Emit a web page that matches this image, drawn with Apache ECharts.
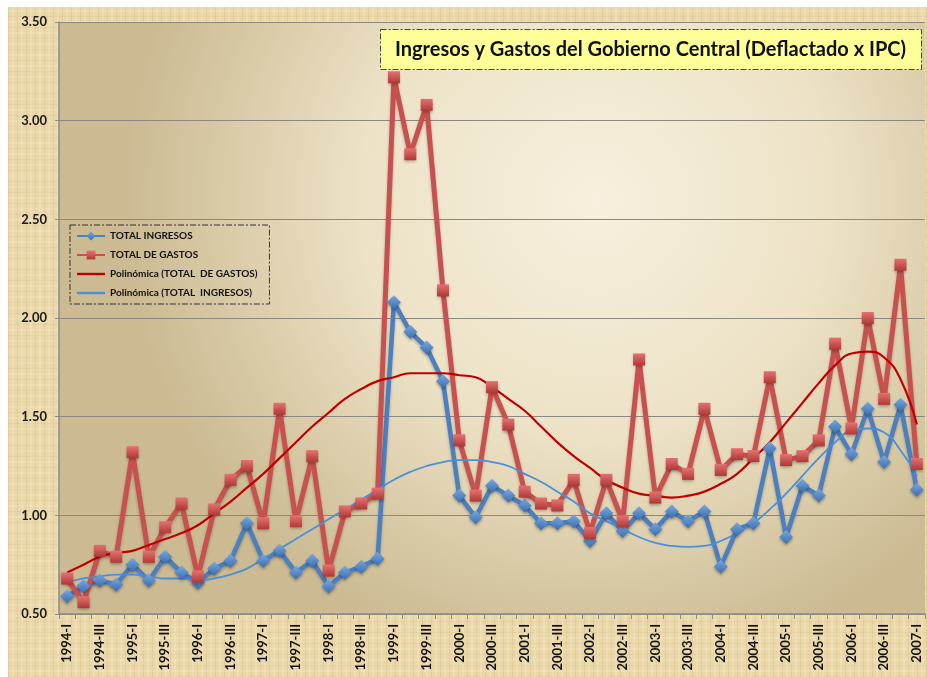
<!DOCTYPE html>
<html>
<head>
<meta charset="utf-8">
<script src="https://cdn.jsdelivr.net/npm/echarts@6/dist/echarts.min.js"></script>
<style>
  html, body { margin: 0; padding: 0; background: #ffffff; }
  #wrap {
    position: absolute; left: 8px; top: 7px; width: 919px; height: 670px;
    background:
      repeating-linear-gradient(90deg, rgba(150,110,50,0.10) 0 1px, transparent 1px 4px, rgba(255,245,220,0.18) 4px 6px, transparent 6px 9px),
      repeating-linear-gradient(0deg, rgba(150,110,50,0.08) 0 1px, transparent 1px 5px, rgba(255,245,220,0.15) 5px 7px, transparent 7px 11px),
      #ebd8aa;
  }
  #chart { width: 919px; height: 670px; }
</style>
</head>
<body>
<div id="wrap"><div id="chart"></div></div>
<script>
// quarterly periods
const periods = [
  '1994-I','1994-II','1994-III','1994-IV',
  '1995-I','1995-II','1995-III','1995-IV',
  '1996-I','1996-II','1996-III','1996-IV',
  '1997-I','1997-II','1997-III','1997-IV',
  '1998-I','1998-II','1998-III','1998-IV',
  '1999-I','1999-II','1999-III','1999-IV',
  '2000-I','2000-II','2000-III','2000-IV',
  '2001-I','2001-II','2001-III','2001-IV',
  '2002-I','2002-II','2002-III','2002-IV',
  '2003-I','2003-II','2003-III','2003-IV',
  '2004-I','2004-II','2004-III','2004-IV',
  '2005-I','2005-II','2005-III','2005-IV',
  '2006-I','2006-II','2006-III','2006-IV',
  '2007-I'
];

const totalIngresos = [
  0.59, 0.64, 0.67, 0.65,  0.75, 0.67, 0.79, 0.71,  0.66, 0.73, 0.77, 0.96,
  0.77, 0.82, 0.71, 0.77,  0.64, 0.71, 0.74, 0.78,  2.08, 1.93, 1.85, 1.68,
  1.10, 0.99, 1.15, 1.10,  1.05, 0.96, 0.96, 0.97,  0.87, 1.01, 0.92, 1.01,
  0.93, 1.02, 0.97, 1.02,  0.74, 0.93, 0.96, 1.34,  0.89, 1.15, 1.10, 1.45,
  1.31, 1.54, 1.27, 1.56,  1.13
];

const totalGastos = [
  0.68, 0.56, 0.82, 0.79,  1.32, 0.79, 0.94, 1.06,  0.69, 1.03, 1.18, 1.25,
  0.96, 1.54, 0.97, 1.30,  0.72, 1.02, 1.06, 1.11,  3.22, 2.83, 3.08, 2.14,
  1.38, 1.10, 1.65, 1.46,  1.12, 1.06, 1.05, 1.18,  0.91, 1.18, 0.97, 1.79,
  1.09, 1.26, 1.21, 1.54,  1.23, 1.31, 1.30, 1.70,  1.28, 1.30, 1.38, 1.87,
  1.44, 2.00, 1.59, 2.27,  1.26
];

// trend lines
const trendGastos = [
  0.71, 0.75, 0.79, 0.81,  0.82, 0.85, 0.88, 0.91,  0.95, 1.01, 1.07, 1.14,
  1.21, 1.29, 1.37, 1.45,  1.52, 1.59, 1.64, 1.68,  1.70, 1.72, 1.72, 1.72,
  1.71, 1.70, 1.65, 1.59,  1.53, 1.45, 1.37, 1.30,  1.24, 1.18, 1.14, 1.11,
  1.10, 1.09, 1.10, 1.12,  1.16, 1.21, 1.29, 1.37,  1.47, 1.57, 1.67, 1.76,
  1.82, 1.83, 1.80, 1.69,  1.46
];

const trendIngresos = [
  0.66, 0.68, 0.69, 0.70,  0.70, 0.69, 0.68, 0.68,  0.67, 0.68, 0.70, 0.73,
  0.78, 0.83, 0.88, 0.93,  0.98, 1.03, 1.08, 1.13,  1.18, 1.22, 1.25, 1.27,
  1.28, 1.28, 1.27, 1.25,  1.21, 1.17, 1.12, 1.07,  1.01, 0.97, 0.93, 0.89,
  0.86, 0.845, 0.84, 0.845, 0.87, 0.91, 0.96, 1.03,  1.11, 1.20, 1.29, 1.37,
  1.43, 1.44, 1.42, 1.33,  1.20
];

const FONT = 'Lato';
const LINE_ICON = 'path://M0,0L28,0L28,2.4L0,2.4Z';

const chart = echarts.init(document.getElementById('chart'), null, { renderer: 'canvas' });

chart.setOption({
  animation: false,
  backgroundColor: 'transparent',
  textStyle: { fontFamily: FONT },
  grid: {
    left: 51, right: 2, top: 15, bottom: 63,
    show: true,
    borderWidth: 0,
    backgroundColor: new echarts.graphic.RadialGradient(0.62, 0.3, 0.8, [
      { offset: 0, color: '#f7f0de' },
      { offset: 0.5, color: '#ede2c6' },
      { offset: 1, color: '#cbba92' }
    ])
  },
  legend: {
    orient: 'vertical',
    left: 62, top: 218,
    padding: [6, 12, 6, 6],
    itemGap: 9,
    itemWidth: 28,
    itemHeight: 11,
    borderColor: '#333',
    borderWidth: 1,
    borderType: [6, 2, 2, 2],
    textStyle: { fontFamily: FONT, fontSize: 10, fontWeight: 'bold', color: '#111' },
    data: [
      'TOTAL INGRESOS',
      'TOTAL DE GASTOS',
      { name: 'Polinómica (TOTAL  DE GASTOS)', icon: LINE_ICON },
      { name: 'Polinómica (TOTAL  INGRESOS)', icon: LINE_ICON }
    ]
  },
  xAxis: {
    type: 'category',
    data: periods,
    boundaryGap: true,
    axisLine: { lineStyle: { color: '#8a8a8a', width: 1.5 } },
    axisTick: { show: true, interval: 0, length: 5, lineStyle: { color: '#8a8a8a' } },
    axisLabel: {
      interval: 1,
      rotate: 90,
      margin: 10,
      fontFamily: FONT,
      fontSize: 13,
      fontWeight: 'bold',
      color: '#111'
    }
  },
  yAxis: {
    type: 'value',
    min: 0.5, max: 3.5, interval: 0.5,
    axisLine: { show: true, lineStyle: { color: '#8a8a8a', width: 1.5 } },
    axisTick: { show: true, length: 4, lineStyle: { color: '#8a8a8a' } },
    axisLabel: {
      formatter: v => v.toFixed(2),
      fontFamily: FONT, fontSize: 13, fontWeight: 'bold', color: '#1a1a1a', margin: 12
    },
    splitLine: { lineStyle: { color: '#8c8880', width: 1 } }
  },
  graphic: [{
    type: 'group',
    left: 372, top: 22,
    children: [{
      type: 'rect',
      shape: { x: 0, y: 0, width: 541, height: 40 },
      style: { fill: '#ffff99', stroke: '#444', lineWidth: 1, lineDash: [6, 2, 2, 2] }
    }, {
      type: 'text',
      x: 270, y: 20,
      style: {
        text: 'Ingresos y Gastos del Gobierno Central (Deflactado x IPC)',
        font: 'bold 20px Lato',
        fill: '#111',
        align: 'center',
        verticalAlign: 'middle'
      }
    }]
  }],
  series: [{
    name: 'TOTAL INGRESOS',
    type: 'line',
    data: totalIngresos,
    symbol: 'diamond',
    symbolSize: 14,
    showAllSymbol: true,
    lineStyle: { color: '#4a7fc0', width: 4.5, shadowColor: 'rgba(0,0,0,0.25)', shadowBlur: 3, shadowOffsetY: 2 },
    itemStyle: {
      color: new echarts.graphic.LinearGradient(0, 0, 0, 1, [
        { offset: 0, color: '#78a8e0' }, { offset: 1, color: '#3a6eb0' }
      ]),
      borderWidth: 0,
      shadowColor: 'rgba(0,0,0,0.3)', shadowBlur: 3, shadowOffsetY: 2
    }
  }, {
    name: 'TOTAL DE GASTOS',
    type: 'line',
    data: totalGastos,
    symbol: 'rect',
    symbolSize: 12,
    showAllSymbol: true,
    lineStyle: { color: '#c8504e', width: 5, shadowColor: 'rgba(0,0,0,0.25)', shadowBlur: 3, shadowOffsetY: 2 },
    itemStyle: {
      color: new echarts.graphic.LinearGradient(0, 0, 0, 1, [
        { offset: 0, color: '#e47272' }, { offset: 1, color: '#b03836' }
      ]),
      borderWidth: 0,
      shadowColor: 'rgba(0,0,0,0.3)', shadowBlur: 3, shadowOffsetY: 2
    }
  }, {
    name: 'Polinómica (TOTAL  DE GASTOS)',
    type: 'line',
    data: trendGastos,
    smooth: true,
    symbol: 'none',
    lineStyle: { color: '#c00000', width: 2.2 },
    itemStyle: { color: '#c00000' }
  }, {
    name: 'Polinómica (TOTAL  INGRESOS)',
    type: 'line',
    data: trendIngresos,
    smooth: true,
    symbol: 'none',
    lineStyle: { color: '#4b8fd8', width: 1.8 },
    itemStyle: { color: '#4b8fd8' }
  }]
});
</script>
</body>
</html>
